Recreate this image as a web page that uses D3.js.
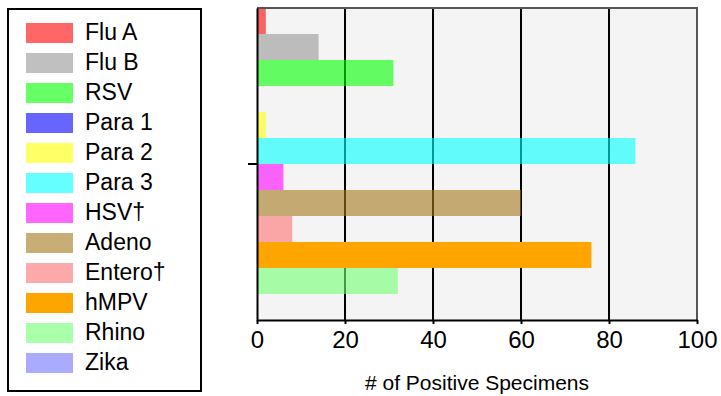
<!DOCTYPE html>
<html><head><meta charset="utf-8">
<script src="https://cdn.jsdelivr.net/npm/d3@7/dist/d3.min.js"></script>
<style>body{margin:0;background:#fff}svg{display:block;font-family:Arial,"Liberation Sans",sans-serif}</style>
</head><body>
<script>
const categories = ["Flu A","Flu B","RSV","Para 1","Para 2","Para 3","HSV\u2020","Adeno","Entero\u2020","hMPV","Rhino","Zika"];
const values = [2,14,31,0,2,86,6,60,8,76,32,0];
const colors = ["#ff0000","#969696","#00ff00","#0000ff","#ffff00","#00ffff","#ff00ff","#a3781b","#ff7171","#ffa500","#71ff71","#7171ff"];
const opacities = [0.6,0.6,0.6,0.6,0.6,0.6,0.6,0.6,0.6,1,0.6,0.6];
const xTicks = [0,20,40,60,80,100];
const xTitle = "# of Positive Specimens";

const W=721,H=396;
const svg=d3.select("body").append("svg").attr("width",W).attr("height",H);
const L=257,R=697,T=8,B=320;
const x=d3.scaleLinear().domain([0,100]).range([L,R]);
const outer=d3.scaleBand().domain([""]).range([T,B]);
const y=d3.scaleBand().domain(categories).range([0,outer.bandwidth()]).padding(0);

svg.append("rect").attr("x",L).attr("y",T).attr("width",R-L).attr("height",B-T).attr("fill","#f4f4f4");
// gridlines
svg.append("g").selectAll("line").data(xTicks.filter(d=>d>0&&d<100)).join("line")
  .attr("x1",d=>x(d)).attr("x2",d=>x(d)).attr("y1",T).attr("y2",B)
  .attr("stroke","#000").attr("stroke-width",2);
// bars
svg.append("g").selectAll("rect").data(categories).join("rect")
  .attr("x",x(0)).attr("y",d=>outer("")+y(d))
  .attr("width",(d,i)=>x(values[i])-x(0)).attr("height",y.bandwidth())
  .attr("fill",(d,i)=>colors[i]).attr("fill-opacity",(d,i)=>opacities[i]);
// border top/right
svg.append("path").attr("d",`M${L},${T}H${R}V${B}`).attr("fill","none").attr("stroke","#555").attr("stroke-width",2);
// x axis
const xa=svg.append("g").attr("transform",`translate(0,${B})`)
  .call(d3.axisBottom(x).tickValues(xTicks).tickSize(4).tickSizeOuter(0).tickPadding(7));
xa.select(".domain").attr("stroke","#000").attr("stroke-width",2);
xa.selectAll(".tick line").attr("stroke","#000").attr("stroke-width",2);
xa.selectAll(".tick text").attr("font-size",24).attr("font-family","Arial, 'Liberation Sans', sans-serif").attr("fill","#000");
// y axis
const ya=svg.append("g").attr("transform",`translate(${L},0)`)
  .call(d3.axisLeft(outer).tickSize(9).tickSizeOuter(0));
ya.select(".domain").attr("stroke","#000").attr("stroke-width",2);
ya.selectAll(".tick line").attr("stroke","#000").attr("stroke-width",2);
ya.selectAll(".tick text").remove();
// x title
svg.append("text").attr("x",(L+R)/2).attr("y",390).attr("text-anchor","middle")
  .attr("font-size",21).attr("fill","#000").text(xTitle);
// legend
svg.append("rect").attr("x",8).attr("y",9).attr("width",193).attr("height",382)
  .attr("fill","#fff").attr("stroke","#000").attr("stroke-width",2);
const lg=svg.append("g").selectAll("g").data(categories).join("g")
  .attr("transform",(d,i)=>`translate(0,${23+i*30})`);
lg.append("rect").attr("x",26).attr("y",0).attr("width",47).attr("height",20)
  .attr("fill",(d,i)=>colors[i]).attr("fill-opacity",(d,i)=>opacities[i]);
lg.append("text").attr("x",85).attr("y",17).attr("font-size",23).attr("fill","#000").text(d=>d);
</script>
</body></html>
